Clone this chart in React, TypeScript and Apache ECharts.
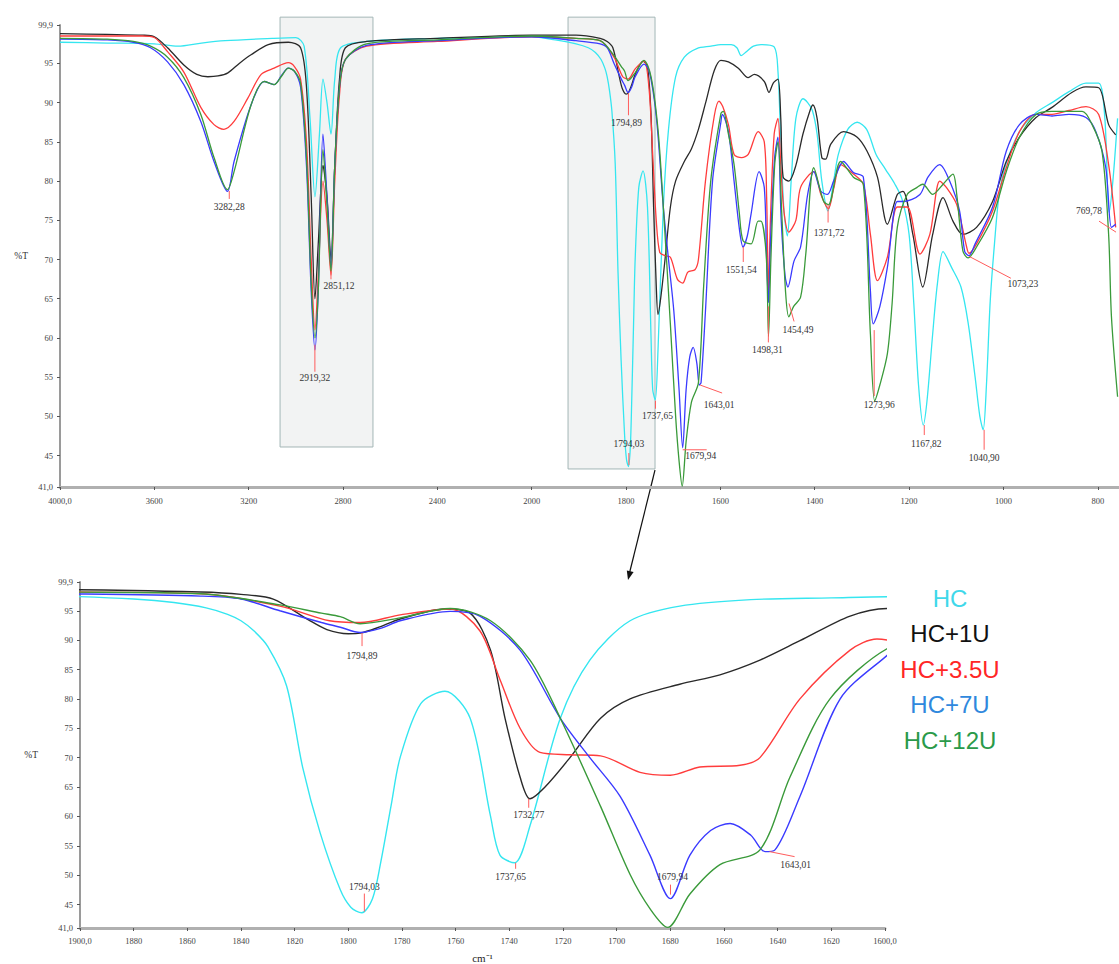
import React, { useEffect, useRef } from "react";
import * as echarts from "echarts";

// ---------- data: [wavenumber (cm-1), %T] ----------
const seriesNames = ["HC", "HC+1U", "HC+3.5U", "HC+7U", "HC+12U"];
const lineColors = ["#35e6f0", "#2a2a2a", "#ff3c3c", "#3a3aff", "#3a9a3a"];
const legendColors = ["#3fd8ea", "#111111", "#ff2626", "#2f88dd", "#2a9a4a"];

const hc: number[][] = [
  [4000, 97.7], [3800, 97.6], [3600, 97.5], [3500, 97.2], [3400, 97.6], [3300, 97.9], [3100, 98.2], [3000, 98.3],
  [2965, 97.2], [2940, 88], [2919, 78], [2900, 86], [2885, 93], [2868, 90], [2851, 86], [2835, 93], [2810, 97],
  [2700, 97.8], [2400, 98.2], [2200, 98.3], [2000, 98.4], [1950, 98], [1906, 97.5], [1880, 97], [1865, 96.4],
  [1853, 95.5], [1845, 94.4], [1840, 93.3], [1835, 91.5], [1830, 88.9], [1823, 82.2], [1817, 68.3], [1810.5, 57.2],
  [1803, 47.5], [1799, 44.5], [1795, 43.6], [1791, 46], [1788, 52], [1784, 62], [1780.7, 70], [1773, 79.2],
  [1764, 81.3], [1754.6, 76.7], [1747, 60], [1743.5, 53.4], [1738, 52.1], [1732.3, 58.4], [1721, 76.7],
  [1710, 86.6], [1695, 93.3], [1676.5, 95.8], [1650, 96.9], [1620, 97.2], [1599, 97.4], [1577, 97.4],
  [1565, 97], [1556, 96], [1545, 96.5], [1530, 97.2], [1514, 97.4], [1486, 97.1], [1478, 94], [1472, 85],
  [1465, 76], [1458, 73], [1450, 80], [1440, 88], [1425, 90.5], [1415, 90], [1405, 89], [1395, 86], [1385, 80],
  [1372, 76.2], [1360, 80], [1350, 83.4], [1330, 86.6], [1310, 87.5], [1290, 86.6], [1270, 83.4], [1250, 81.5],
  [1230, 79.6], [1215, 77.7], [1200, 73.2], [1190, 64.4], [1180, 54], [1170, 48.9], [1162, 52], [1150, 60.5],
  [1140, 66.9], [1128, 71], [1110, 69], [1090, 66.5], [1075, 62], [1060, 55], [1050, 50], [1043, 48.3],
  [1036, 54], [1028, 64.7], [1019, 72], [1009, 78.3], [995, 82.1], [966, 86.3], [931, 88.7], [897, 90],
  [861, 91.4], [825, 92.5], [798, 92.5], [785, 88], [776, 76], [768, 80], [758, 88],
];

const hc1u: number[][] = [
  [4000, 98.8], [3800, 98.7], [3650, 98.6], [3600, 98.4], [3544, 97], [3475, 94.8], [3420, 93.6], [3373, 93.3],
  [3330, 93.4], [3288, 93.8], [3240, 95], [3190, 96.1], [3117, 97.4], [3032, 97.7], [2980, 97], [2955, 92],
  [2935, 78], [2919, 65], [2905, 72], [2885, 82], [2868, 78], [2851, 70], [2835, 82], [2815, 93], [2790, 97],
  [2700, 97.8], [2400, 98.2], [2000, 98.6], [1906, 98.6], [1855, 98.2], [1840, 97.8], [1828, 97], [1815, 93.5],
  [1808, 91.8], [1800, 91.1], [1795.6, 91.2], [1788, 92.3], [1780.7, 93.6], [1764, 95.3], [1754.6, 94.6],
  [1747, 88.3], [1741.6, 76.7], [1736, 66.7], [1732.3, 63], [1726.7, 65], [1717.4, 70], [1706, 76.7], [1695, 80],
  [1676.5, 82.5], [1661.5, 84.1], [1646.6, 86.6], [1631.7, 89.9], [1613, 94.1], [1599, 95.4], [1583, 95.2],
  [1562, 94.4], [1541, 93.2], [1528, 93.6], [1507, 92.7], [1497, 91.3], [1488, 92.5], [1478, 93], [1472, 88],
  [1467, 80.5], [1455, 80], [1440, 82], [1425, 86], [1410, 89], [1404, 89.7], [1395, 88], [1385, 83],
  [1377, 82.8], [1366, 84.7], [1339, 86.3], [1310, 85.6], [1289, 83.8], [1267, 80.5], [1246, 74.5], [1225, 78.3],
  [1213, 78.7], [1192, 73.2], [1171, 66.5], [1150, 73.2], [1128, 77.9], [1107, 74.9], [1086, 73.2], [1057, 74.1],
  [1023, 77.4], [994, 82.5], [966, 85.6], [931, 88.1], [897, 89.4], [855, 91.3], [825, 92], [798, 91.9],
  [777, 87.2], [762, 85.9],
];

const hc35u: number[][] = [
  [4000, 98.5], [3800, 98.5], [3650, 98.5], [3600, 98.3], [3544, 96.5], [3475, 93.9], [3403, 89.4], [3347, 87.2],
  [3305, 86.6], [3262, 87.6], [3203, 90.6], [3147, 93.6], [3092, 94.4], [3032, 95.1], [3006, 94.6], [2980, 93],
  [2955, 85], [2935, 70], [2919, 61], [2905, 68], [2885, 80], [2868, 75], [2851, 68], [2835, 80], [2815, 91],
  [2790, 95.5], [2700, 97.2], [2400, 97.8], [2000, 98.4], [1906, 98.2], [1855, 97.9], [1825.5, 95.8], [1807, 93.3],
  [1795.6, 93], [1780.7, 94.3], [1762, 95.3], [1751, 91.6], [1743.5, 83.3], [1736, 75], [1728.6, 70.9],
  [1717.4, 70.5], [1706, 70.3], [1691.3, 67.5], [1680, 67], [1669, 68.4], [1654, 68.7], [1646.6, 70],
  [1631.7, 80], [1613, 88.3], [1603, 90.2], [1595, 89.5], [1583, 87.2], [1571, 83.4], [1555, 83], [1541, 83.4],
  [1520, 86.3], [1507, 85], [1502, 78], [1498, 66], [1494, 75], [1486, 86], [1478, 88], [1472, 82], [1465, 76],
  [1455, 73.5], [1440, 75], [1430, 79.2], [1402, 81.2], [1387, 78.3], [1371, 76.5], [1360, 79], [1345, 82.1],
  [1318, 80.9], [1297, 79.6], [1282, 73.2], [1267, 67.3], [1246, 70.3], [1225, 76.7], [1204, 76.7], [1177, 70.7],
  [1156, 73.2], [1135, 80], [1121, 79.2], [1099, 77], [1078, 71.6], [1073, 70.8], [1057, 72], [1023, 76.2],
  [994, 81.7], [966, 86.3], [931, 88.5], [897, 88.5], [861, 89], [825, 89.5], [798, 88.5], [777, 82.1], [762, 74.1],
];

const hc7u: number[][] = [
  [4000, 98.1], [3800, 98], [3689, 97.7], [3616, 97], [3544, 95.2], [3475, 92.3], [3403, 87.6], [3347, 82.5],
  [3290, 78.7], [3262, 82.5], [3190, 89.7], [3134, 92.7], [3092, 92.3], [3060, 93.5], [3032, 94.4], [3006, 94],
  [2980, 92], [2955, 82], [2935, 66], [2919, 58.5], [2905, 66], [2885, 86], [2868, 78], [2851, 69], [2835, 82],
  [2815, 92], [2790, 95.5], [2700, 97.3], [2400, 97.9], [2000, 98.4], [1906, 97.9], [1855, 97.5], [1840, 97],
  [1825.5, 95], [1810, 93], [1803, 92.2], [1795.6, 91.3], [1788, 92], [1780.7, 93.3], [1762, 94.9], [1751, 94.1],
  [1736, 88.3], [1721, 76.7], [1710, 70], [1698.7, 63.4], [1687.6, 53.4], [1680, 46], [1672.7, 53.4],
  [1665, 57.6], [1657.7, 58.8], [1650, 56.8], [1644.7, 54], [1641, 54.3], [1631.7, 63.4], [1616.7, 80],
  [1599, 87.5], [1596, 88.5], [1583, 86.3], [1571, 80], [1560, 74], [1552, 71.6], [1543, 73], [1535, 75.8],
  [1518, 81.2], [1507, 79.2], [1502, 70], [1498, 64.5], [1494, 72], [1485, 83], [1478, 85.6], [1471, 74.9],
  [1463, 68], [1457, 66.5], [1444, 69.8], [1430, 71.6], [1415, 78.3], [1402, 81.2], [1387, 78.7], [1373, 78.3],
  [1360, 80], [1339, 82.5], [1318, 81.1], [1297, 80.5], [1282, 66], [1276, 61.8], [1262, 64], [1246, 69],
  [1225, 77.4], [1213, 77.4], [1177, 78.3], [1160, 80.5], [1135, 82.1], [1114, 80], [1093, 76.2], [1082, 71],
  [1073, 70.5], [1060, 72], [1023, 76.7], [994, 83.8], [966, 87.2], [931, 88.5], [897, 88.3], [861, 88.5],
  [825, 88.1], [804, 86.3], [783, 81.7], [771, 74.1], [762, 74.5],
];

const hc12u: number[][] = [
  [4000, 98.2], [3800, 98.1], [3689, 97.8], [3616, 97.2], [3544, 95.8], [3475, 93.2], [3403, 88.5], [3347, 83],
  [3290, 78.9], [3262, 81.2], [3190, 89.7], [3134, 92.7], [3092, 92.3], [3060, 93.4], [3032, 94.4], [3006, 94],
  [2980, 92.5], [2955, 83], [2935, 67], [2919, 60], [2905, 66], [2885, 84], [2868, 77], [2851, 68.5], [2835, 82],
  [2815, 92], [2790, 95.5], [2700, 97.5], [2400, 98], [2000, 98.5], [1906, 98.2], [1855, 97.9], [1825.5, 96],
  [1810, 94.6], [1803, 94], [1795.6, 92.8], [1780.7, 93.8], [1762, 95.4], [1747, 93.3], [1732.3, 86.6],
  [1721, 76.7], [1706, 61.7], [1695, 50.1], [1687.6, 44.3], [1681, 41.1], [1672.7, 46.8], [1661.5, 51.8],
  [1646.6, 54.3], [1635.4, 66.7], [1620.5, 80], [1599, 88.6], [1594, 88.9], [1583, 86], [1571, 82.1], [1560, 76],
  [1552, 72.4], [1535, 72], [1520, 74.9], [1514, 74.9], [1503, 70.7], [1498, 60.2], [1493, 70], [1485, 82],
  [1478, 85], [1470, 76], [1462, 66], [1455, 62.7], [1445, 64], [1430, 65.2], [1419, 70.7], [1402, 81.7],
  [1381, 77.4], [1371, 77], [1345, 82.5], [1318, 80.5], [1297, 79.6], [1282, 60.5], [1273, 52], [1262, 54],
  [1246, 58], [1236, 64.4], [1225, 74.1], [1204, 78.3], [1183, 79.2], [1171, 79.6], [1150, 78.3], [1128, 79.6],
  [1107, 80.9], [1099, 78.3], [1086, 71.1], [1075, 70.2], [1057, 71.6], [1023, 75.4], [994, 81.2], [966, 85.6],
  [931, 88.5], [897, 88.9], [833, 88.9], [812, 87.2], [791, 83.8], [777, 73.2], [771, 62.7], [758, 52.5],
];

const curves = [hc, hc1u, hc35u, hc7u, hc12u];

// peak annotations: [wavenumber, %T, text]
const topPeaks: [number, number, string][] = [
  [3282.28, 79.0, "3282,28"], [2919.32, 58.5, "2919,32"], [2851.12, 68.5, "2851,12"],
  [1794.89, 91.2, "1794,89"], [1794.03, 43.8, "1794,03"], [1737.65, 52.0, "1737,65"],
  [1679.94, 46.0, "1679,94"], [1643.01, 54.0, "1643,01"], [1551.54, 71.6, "1551,54"],
  [1498.31, 60.2, "1498,31"], [1454.49, 64.4, "1454,49"], [1371.72, 76.5, "1371,72"],
  [1273.96, 61.0, "1273,96"], [1167.82, 48.9, "1167,82"], [1040.9, 48.3, "1040,90"],
  [1073.23, 70.8, "1073,23"], [769.78, 74.0, "769,78"],
];
const bottomPeaks: [number, number, string][] = [
  [1794.03, 43.8, "1794,03"], [1794.89, 91.2, "1794,89"], [1732.77, 63.0, "1732,77"],
  [1737.65, 52.1, "1737,65"], [1679.94, 46.0, "1679,94"], [1643.01, 54.0, "1643,01"],
];

// tick values
const topXTicks = [4000, 3600, 3200, 2800, 2400, 2000, 1800, 1600, 1400, 1200, 1000, 800];
const bottomXTicks = [1900, 1880, 1860, 1840, 1820, 1800, 1780, 1760, 1740, 1720, 1700, 1680, 1660, 1640, 1620, 1600];
const yTicks = [41, 45, 50, 55, 60, 65, 70, 75, 80, 85, 90, 95, 99.9];

// highlighted wavenumber ranges in upper spectrum: [wLeft, wRight, %T top, %T bottom]
const zoomBoxes = [
  [3067, 2673, 100.9, 46.1],
  [1923, 1738.6, 100.9, 43.3],
];

// ---------- layout (pixel offsets for peak annotations: line x1,y1,x2,y2, text x,y) ----------
const topPeakLayout = [
  [0, 2, 0, 10, 0, 18], [0, -5, 0, 22, 0, 28], [0, 0, 0, 8, 8, 15],
  [0, 0, 0, 22, -2, 30], [0, 0, 0, -12, 0, -21], [0, 0, 0, 8, 2, 15],
  [0, 2, 24, 2, 18, 8], [0, 0, 22, 8, 19, 20], [0, 0, 0, 15, -2, 23],
  [0, -30, 0, 6, -1, 14], [0, 0, 5, 18, 9, 27], [0, -4, 0, 14, 1, 24],
  [0, 0, 0, 66, 5, 75], [0, 0, 0, 10, 2, 19], [0, 0, 0, 20, 0, 28],
  [0, 3, 42, 25, 54, 31], [4, 4, -13, -7, -23, -17],
];
const bottomPeakLayout = [
  [0, 0, 0, -18, 0, -25], [0, 0, 0, 13, 0, 23], [0, 0, 0, 9, 0, 16],
  [0, 0, 0, 6, -5, 14], [0, -4, 0, -14, 2, -22], [0, 0, 25, 5, 26, 13],
];

// piecewise wavenumber scale of the upper spectrum (4000-2000 compressed 2x)
const toU = (w: number) => (w >= 2000 ? (4000 - w) / 2 : 1000 + (2000 - w));
const fromU = (u: number) => (u <= 1000 ? 4000 - 2 * u : 2000 - (u - 1000));

const SERIF = '"Liberation Serif", "Times New Roman", serif';
const SANS = '"Liberation Sans", Arial, sans-serif';

function fmtY(v: number) {
  if (Math.abs(v - 41) < 0.01) return "41,0";
  if (Math.abs(v - 99.9) < 0.01) return "99,9";
  return String(Math.round(v));
}

function peakSeries(axisIndex: number, peaks: [number, number, string][], layout: number[][], mapX: (w: number) => number) {
  return {
    type: "custom",
    xAxisIndex: axisIndex,
    yAxisIndex: axisIndex,
    z: 6,
    clip: false,
    silent: true,
    data: peaks.map((p) => [mapX(p[0]), p[1]]),
    renderItem: (params: any, api: any) => {
      const i = params.dataIndex;
      const pt = api.coord([api.value(0), api.value(1)]);
      const L = layout[i];
      return {
        type: "group",
        children: [
          {
            type: "line",
            shape: { x1: pt[0] + L[0], y1: pt[1] + L[1], x2: pt[0] + L[2], y2: pt[1] + L[3] },
            style: { stroke: "#ff5c5c", lineWidth: 1 },
          },
          {
            type: "text",
            x: pt[0] + L[4],
            y: pt[1] + L[5],
            style: {
              text: peaks[i][2],
              fill: "#333",
              fontSize: 9.5,
              fontFamily: SERIF,
              align: "center",
              verticalAlign: "middle",
            },
          },
        ],
      };
    },
  };
}

function buildOption() {
  const axisLineStyle = { color: "#9a9a9a", width: 2 };
  const labelStyle = { color: "#444", fontSize: 8.5, fontFamily: SERIF };

  const series: any[] = [];

  // highlight boxes on the upper spectrum
  series.push({
    type: "custom",
    xAxisIndex: 0,
    yAxisIndex: 0,
    z: 1,
    clip: false,
    silent: true,
    data: zoomBoxes.map((b) => [toU(b[0]), b[2], toU(b[1]), b[3]]),
    renderItem: (params: any, api: any) => {
      const a = api.coord([api.value(0), api.value(1)]);
      const b = api.coord([api.value(2), api.value(3)]);
      return {
        type: "rect",
        shape: { x: a[0], y: a[1], width: b[0] - a[0], height: b[1] - a[1] },
        style: { fill: "#f2f3f3", stroke: "#a3b6b6", lineWidth: 1 },
      };
    },
  });

  curves.forEach((pts, k) => {
    series.push({
      name: seriesNames[k],
      type: "line",
      xAxisIndex: 0,
      yAxisIndex: 0,
      data: pts.map(([w, t]) => [toU(w), t]),
      symbol: "none",
      smooth: 0.3,
      z: 3,
      lineStyle: { color: lineColors[k], width: 1.3 },
    });
    series.push({
      name: seriesNames[k],
      type: "line",
      xAxisIndex: 1,
      yAxisIndex: 1,
      data: pts,
      symbol: "none",
      smooth: 0.3,
      z: 3,
      lineStyle: { color: lineColors[k], width: 1.4 },
    });
  });

  series.push(peakSeries(0, topPeaks, topPeakLayout, toU));
  series.push(peakSeries(1, bottomPeaks, bottomPeakLayout, (w) => w));

  const topXU = topXTicks.map(toU);

  return {
    animation: false,
    backgroundColor: "#ffffff",
    grid: [
      { left: 60, top: 25, width: 1059, height: 462 },
      { left: 80, top: 582, width: 805, height: 352 },
    ],
    xAxis: [
      {
        type: "value",
        gridIndex: 0,
        min: 0,
        max: 2245,
        axisLine: { lineStyle: { color: "#b0b0b0", width: 3 } },
        axisTick: { customValues: topXU, length: 3, lineStyle: { color: "#555" } },
        axisLabel: {
          ...labelStyle,
          customValues: topXU,
          margin: 9,
          formatter: (u: number) => {
            const w = Math.round(fromU(u));
            return w === 4000 ? "4000,0" : String(w);
          },
        },
        splitLine: { show: false },
      },
      {
        type: "value",
        gridIndex: 1,
        min: 1600,
        max: 1900,
        inverse: true,
        name: "cm⁻¹",
        nameLocation: "middle",
        nameGap: 24,
        nameTextStyle: { color: "#222", fontSize: 11, fontFamily: SERIF },
        axisLine: { lineStyle: { color: "#b0b0b0", width: 3 } },
        axisTick: { customValues: bottomXTicks, length: 3, lineStyle: { color: "#555" } },
        axisLabel: {
          ...labelStyle,
          customValues: bottomXTicks,
          margin: 8,
          formatter: (v: number) => (v === 1900 ? "1900,0" : v === 1600 ? "1600,0" : String(v)),
        },
        splitLine: { show: false },
      },
    ],
    yAxis: [
      {
        type: "value",
        gridIndex: 0,
        min: 41,
        max: 99.9,
        name: "%T",
        nameLocation: "middle",
        nameRotate: 0,
        nameGap: 32,
        nameTextStyle: { color: "#333", fontSize: 9.5, fontFamily: SERIF },
        axisLine: { show: true, lineStyle: axisLineStyle },
        axisTick: { show: true, customValues: yTicks, length: 3, lineStyle: { color: "#555" } },
        axisLabel: { ...labelStyle, customValues: yTicks, margin: 7, formatter: fmtY },
        splitLine: { show: false },
      },
      {
        type: "value",
        gridIndex: 1,
        min: 41,
        max: 99.9,
        name: "%T",
        nameLocation: "middle",
        nameRotate: 0,
        nameGap: 42,
        nameTextStyle: { color: "#333", fontSize: 9.5, fontFamily: SERIF },
        axisLine: { show: true, lineStyle: axisLineStyle },
        axisTick: { show: true, customValues: yTicks, length: 3, lineStyle: { color: "#555" } },
        axisLabel: { ...labelStyle, customValues: yTicks, margin: 7, formatter: fmtY },
        splitLine: { show: false },
      },
    ],
    graphic: [
      { type: "line", shape: { x1: 655, y1: 470, x2: 629.5, y2: 573 }, style: { stroke: "#111", lineWidth: 1.2 } },
      {
        type: "polygon",
        shape: { points: [[628, 580], [633.6, 572.1], [626.8, 570.5]] },
        style: { fill: "#111" },
      },
      ...seriesNames.map((n, k) => ({
        type: "text",
        x: 950,
        y: 598 + k * 35.5,
        style: {
          text: n,
          fill: legendColors[k],
          fontSize: 24,
          fontFamily: SANS,
          align: "center",
          verticalAlign: "middle",
        },
      })),
    ],
    series,
  };
}

export default function App() {
  const ref = useRef<HTMLDivElement>(null);
  useEffect(() => {
    if (!ref.current) return;
    const chart = echarts.init(ref.current, null, { renderer: "svg" });
    chart.setOption(buildOption() as any);
    return () => chart.dispose();
  }, []);
  return (
    <div
      ref={ref}
      style={{ position: "absolute", left: 0, top: 0, width: 1119, height: 964, background: "#fff" }}
    />
  );
}
